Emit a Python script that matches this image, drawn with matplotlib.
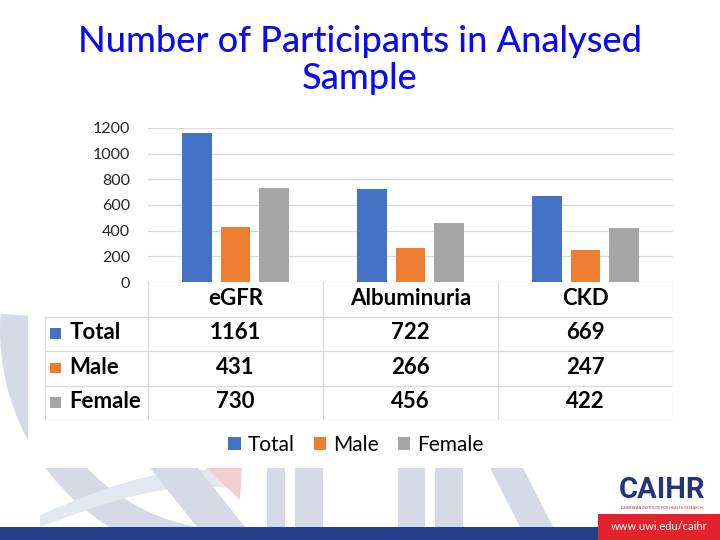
import matplotlib.pyplot as plt
from matplotlib.patches import Polygon, Rectangle
import numpy as np

categories = ["eGFR", "Albuminuria", "CKD"]
series_names = ["Total", "Male", "Female"]
total = [1161, 722, 669]
male = [431, 266, 247]
female = [730, 456, 422]
series_values = [total, male, female]
colors = ["#4472C4", "#ED7D31", "#A5A5A5"]
y_ticks = [0, 200, 400, 600, 800, 1000, 1200]

FONT = "Lato"
W, H = 720, 540

fig = plt.figure(figsize=(7.2, 5.4), dpi=100)
fig.patch.set_facecolor("white")


def px(x, y):
    # pixel position (y measured from the top) -> background axes coords
    return (x, H - y)


# ---- background: watermark, white panel, footer ----
bg = fig.add_axes([0, 0, 1, 1], zorder=0)
bg.set_xlim(0, W)
bg.set_ylim(0, H)
bg.axis("off")

wm = "#d5dae6"
# big curved "C"
cx, cy = 232, 330
t = np.radians(np.linspace(176, 262, 80))
outer = [px(cx + 232 * np.cos(a), cy - 232 * np.sin(a)) for a in t]
inner = [px(cx + 200 * np.cos(a), cy - 200 * np.sin(a)) for a in t[::-1]]
bg.add_patch(Polygon(outer + inner, closed=True, color=wm, lw=0))
# swoosh
s = np.linspace(0, 1, 40)
top = [px(40 + 200 * v, 515 - 45 * np.sin(v * np.pi * 0.6)) for v in s]
bot = [px(40 + 200 * v, 527 - 40 * np.sin(v * np.pi * 0.6)) for v in s[::-1]]
bg.add_patch(Polygon(top + bot, closed=True, color="#e3e7ef", lw=0))
# "A" leg and red accent
bg.add_patch(Polygon([px(150, 468), px(198, 468), px(245, 527), px(197, 527)],
                     closed=True, color=wm, lw=0))
bg.add_patch(Polygon([px(206, 468), px(242, 468), px(240, 500)],
                     closed=True, color="#f2d0d2", lw=0))
# "I", "H" and "R" strokes
for x0, x1 in [(267, 285), (295, 323), (398, 425), (435, 463)]:
    bg.add_patch(Polygon([px(x0, 468), px(x1, 468), px(x1, 527), px(x0, 527)],
                         closed=True, color=wm, lw=0))
bg.add_patch(Polygon([px(490, 468), px(523, 468), px(553, 527), px(520, 527)],
                     closed=True, color=wm, lw=0))

# white chart panel
bg.add_patch(Rectangle(px(28, 468), 662, 468, color="white", lw=0))

# footer
bg.add_patch(Rectangle(px(0, 540), 598, 13, color="#243f8a", lw=0))
bg.add_patch(Rectangle(px(598, 540), 122, 26, color="#e3232b", lw=0))
bg.text(*px(659, 526), "www.uwi.edu/caihr", color="white", fontsize=8,
        ha="center", va="center", family=FONT)
bg.text(*px(662, 490), "CAIHR", color="#23357f", fontsize=21, fontweight="bold",
        ha="center", va="center", family="Roboto")
bg.text(*px(662, 508), "CARIBBEAN INSTITUTE FOR HEALTH RESEARCH", color="#c0282e",
        fontsize=2.6, ha="center", va="center", family=FONT)

# ---- title ----
fig.text(0.5, 1 - 60 / H, "Number of Participants in Analysed\nSample",
         ha="center", va="center", fontsize=26, color="#0a0af0", family=FONT,
         fontweight="medium", linespacing=1.15)

# ---- bar chart ----
ax = fig.add_axes([148 / W, (H - 282) / H, 525 / W, 154 / H], zorder=2)
ax.patch.set_alpha(0)
x = np.arange(len(categories))
bw = 0.17
offsets = [-0.222, 0, 0.222]
handles = []
for vals, off, c, name in zip(series_values, offsets, colors, series_names):
    handles.append(ax.bar(x + off, vals, bw, color=c, label=name, zorder=3))
ax.set_xlim(-0.5, 2.5)
ax.set_ylim(0, 1200)
ax.set_yticks(y_ticks)
ax.set_yticklabels([str(v) for v in y_ticks], fontsize=11.5, family=FONT, color="#262626")
ax.set_xticks([])
ax.tick_params(axis="y", length=0, pad=13)
ax.grid(axis="y", color="#d9d9d9", lw=0.9, zorder=0)
for sp in ax.spines.values():
    sp.set_visible(False)

# ---- data table ----
tb = fig.add_axes([45 / W, (H - 420) / H, 628 / W, 138 / H], zorder=2)
tb.patch.set_alpha(0)
left = -0.5 - 103 / 175
tb.set_xlim(left, 2.5)
tb.set_ylim(4, 0)
tb.axis("off")
lc = "#d9d9d9"
for r in [1, 2, 3, 4]:
    tb.plot([left, 2.5], [r, r], color=lc, lw=0.9)
tb.plot([left, left], [1, 4], color=lc, lw=0.9)
for cxl in [-0.5, 0.5, 1.5, 2.5]:
    tb.plot([cxl, cxl], [0, 4], color=lc, lw=0.9)

tfs = 16
for i, cat in enumerate(categories):
    tb.text(i, 0.47, cat, ha="center", va="center", fontsize=tfs,
            fontweight="bold", family=FONT)
for r, (name, vals, c) in enumerate(zip(series_names, series_values, colors), start=1):
    tb.add_patch(Rectangle((left + 0.03, r + 0.34), 0.06, 0.31, color=c, lw=0))
    tb.text(left + 0.14, r + 0.47, name, ha="left", va="center", fontsize=tfs,
            fontweight="bold", family=FONT)
    for i, v in enumerate(vals):
        tb.text(i, r + 0.47, str(v), ha="center", va="center", fontsize=tfs,
                fontweight="bold", family=FONT)

# ---- legend ----
fig.legend(handles=handles, labels=series_names, loc="center",
           bbox_to_anchor=(356 / W, 1 - 445 / H), ncol=3, frameon=False,
           prop={"family": FONT, "size": 15}, handlelength=0.6, handleheight=0.6,
           handletextpad=0.35, columnspacing=0.9)

fig.savefig("out.png", dpi=100)
